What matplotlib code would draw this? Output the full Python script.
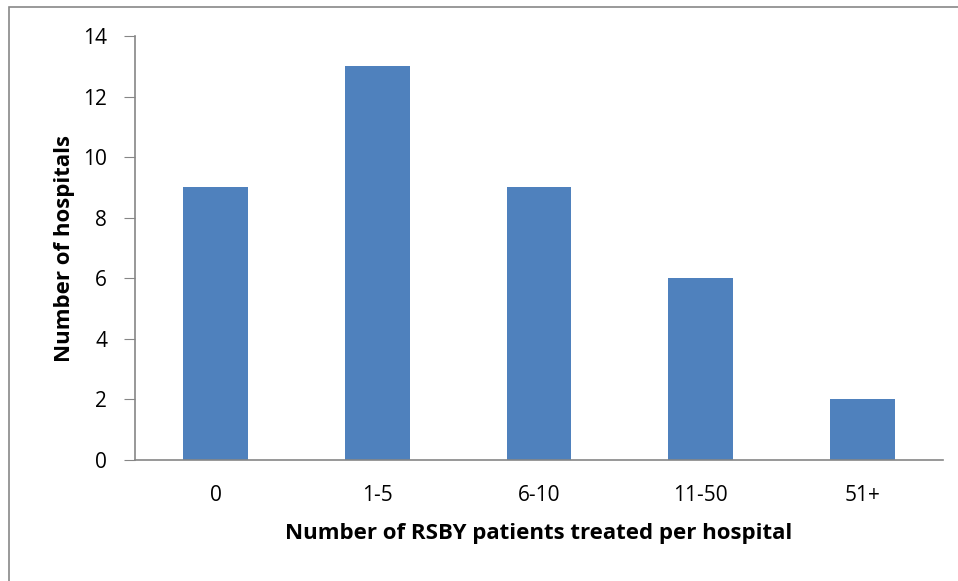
import matplotlib.pyplot as plt
from matplotlib.patches import Rectangle

# data
categories = ["0", "1-5", "6-10", "11-50", "51+"]
hospitals = [9, 13, 9, 6, 2]

plt.rcParams['font.family'] = ['Open Sans', 'DejaVu Sans']

fig = plt.figure(figsize=(9.58, 5.81), dpi=100)
ax = fig.add_axes([135/958, 1 - 460/581, (943 - 135)/958, (460 - 36)/581])

# outer chart border (Excel style)
fig.patches.append(Rectangle((9/958, -0.05), 1.2, 1 - 7/581 + 0.05, transform=fig.transFigure,
                             fill=False, edgecolor="#888888", linewidth=1.2))

x = range(len(categories))
ax.bar(x, hospitals, width=0.4, color="#4F81BD")

ax.set_xlim(-0.5, len(categories) - 0.5)
ax.set_ylim(0, 14)
ax.set_yticks(range(0, 15, 2))
ax.set_xticks(list(x))
ax.set_xticklabels(categories)

for s in ["top", "right"]:
    ax.spines[s].set_visible(False)
for s in ["left", "bottom"]:
    ax.spines[s].set_color("#868686")
    ax.spines[s].set_linewidth(1.2)

ax.tick_params(axis="y", length=8, color="#868686", labelsize=15, pad=12)
ax.tick_params(axis="x", length=0, labelsize=15, pad=18)

ax.set_xlabel("Number of RSBY patients treated per hospital", fontsize=16,
              fontweight="bold", labelpad=12)
ax.set_ylabel("Number of hospitals", fontsize=16, fontweight="bold", labelpad=6)

fig.savefig("out.png", dpi=100)
